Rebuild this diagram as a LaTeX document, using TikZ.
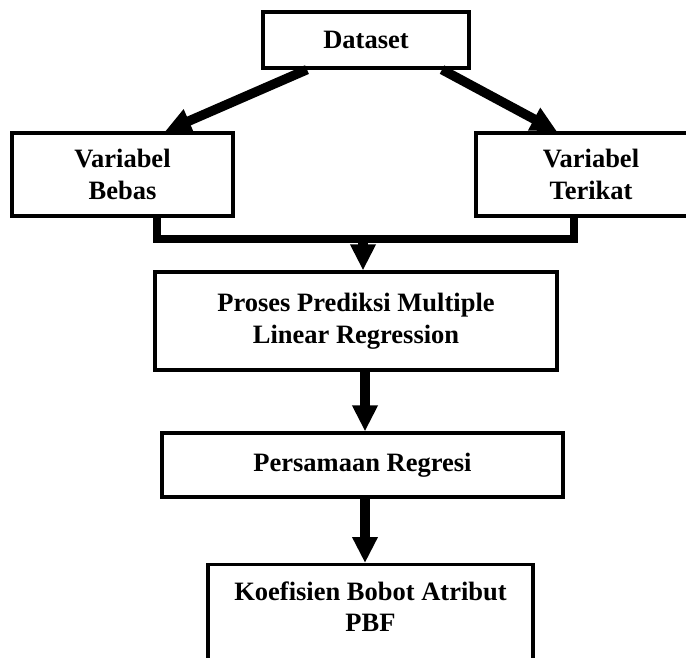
\documentclass[tikz,border=0pt]{standalone}
\usepackage{fontspec}
\setmainfont{Liberation Serif}
\usepackage{tikz}
\usetikzlibrary{calc, arrows.meta}

\begin{document}
\begin{tikzpicture}[x = 1pt, y = 1pt,
		box/.style = {draw, line width = 3.2pt, align = center, inner sep = 0pt, font = \bfseries\fontsize{26.5}{31.5}\selectfont},
		flow/.style = {line width = 9.5pt, -{Triangle[width = 24pt, length = 26pt]}}
	]
		\useasboundingbox (0,0) rectangle (686,-657);
		\clip (0,0) rectangle (686,-657);
		
		%boxes
		\node [box, minimum width = 206pt, minimum height = 56pt] (dataset) at (366,-40) {Dataset};
		\node [box, minimum width = 221pt, minimum height = 83pt] (bebas) at (122.5,-174.5) {Variabel\\Bebas};
		\node [box, minimum width = 230pt, minimum height = 83pt] (terikat) at (591,-174.5) {Variabel\\Terikat};
		\node [box, minimum width = 402pt, minimum height = 98pt] (proses) at (356,-321) {Proses Prediksi Multiple\\Linear Regression};
		\node [box, minimum width = 401pt, minimum height = 64pt] (persamaan) at (362.5,-465) {Persamaan Regresi};
		\node [box, anchor = north, minimum width = 325pt, inner ysep = 17pt, text depth = 80pt] (koefisien) at (370.5,-563) {Koefisien Bobot Atribut\\PBF};
		
		%split
		\draw [flow] ($ (dataset.south) + (-59,0) $) -- ($ (bebas.north) + (42.5,0) $);
		\draw [flow] ($ (dataset.south) + (76,0) $) -- ($ (terikat.north) + (-34,0) $);
		
		%merge
		\coordinate (merge) at (363,-239);
		\draw [line width = 8pt] ($ (bebas.south) + (34.5,0) $) |- (merge) -| ($ (terikat.south) + (-17,0) $);
		\draw [flow] (merge) -- ($ (proses.north) + (7,0) $);
		
		%down
		\draw [flow] ($ (proses.south) + (9,0) $) -- ($ (persamaan.north) + (2.5,0) $);
		\draw [flow] ($ (persamaan.south) + (2.5,0) $) -- ($ (koefisien.north) + (-5.5,0) $);
	\end{tikzpicture}
\end{document}
